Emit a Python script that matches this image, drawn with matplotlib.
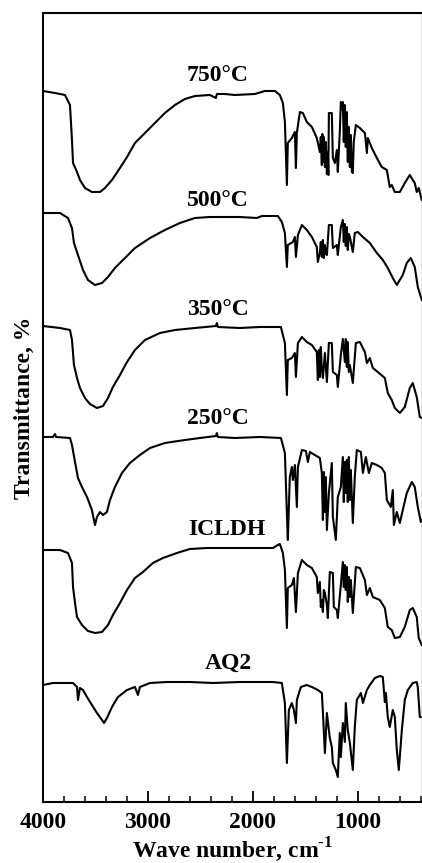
import matplotlib
matplotlib.use('Agg')
import matplotlib.pyplot as plt
from matplotlib.ticker import MultipleLocator

plt.rcParams['font.family'] = ['Liberation Serif', 'DejaVu Serif']
plt.rcParams['font.weight'] = 'bold'
plt.rcParams['mathtext.fontset'] = 'custom'
plt.rcParams['mathtext.rm'] = 'Liberation Serif:bold'
plt.rcParams['mathtext.bf'] = 'Liberation Serif:bold'

# FTIR spectra, stacked, transmittance in arbitrary units
wn_750 = [4000, 3886, 3791, 3743, 3724, 3714, 3676, 3648, 3600, 3534, 3457, 3410, 3343, 3267, 3200, 3124,
          3029, 2934, 2839, 2743, 2648, 2553, 2410, 2353, 2344, 2267, 2172, 1982, 1887, 1791, 1744, 1715,
          1696, 1677, 1668, 1630, 1601, 1591, 1582, 1553, 1525, 1487, 1439, 1392, 1363, 1354, 1344, 1339,
          1334, 1325, 1315, 1306, 1296, 1287, 1282, 1277, 1249, 1239, 1220, 1201, 1192, 1173, 1163, 1154,
          1144, 1135, 1125, 1116, 1106, 1097, 1087, 1077, 1068, 1058, 1049, 1040, 1020, 982, 934, 915,
          906, 868, 820, 773, 725, 697, 678, 649, 601, 554, 506, 478, 459, 440, 421, 392]
t_750 = [711, 709, 707, 697, 662, 639, 630, 622, 614, 610, 610, 614, 622, 634, 645, 659,
         669, 679, 689, 697, 703, 706, 707, 704, 708, 708, 707, 708, 711, 711, 707, 699,
         680, 617, 659, 664, 670, 634, 669, 690, 689, 680, 675, 664, 650, 665, 637, 668,
         640, 665, 635, 660, 628, 650, 627, 689, 689, 644, 639, 652, 630, 670, 700, 692,
         700, 660, 697, 655, 690, 640, 675, 635, 667, 630, 629, 660, 677, 674, 669, 649,
         664, 654, 644, 635, 632, 615, 617, 610, 610, 619, 627, 622, 619, 610, 614, 602]

wn_500 = [4000, 3838, 3762, 3724, 3705, 3667, 3619, 3572, 3505, 3438, 3381, 3315, 3219, 3124, 2981, 2839,
          2696, 2553, 2410, 2125, 1963, 1915, 1763, 1725, 1696, 1677, 1668, 1620, 1601, 1591, 1572, 1534,
          1487, 1439, 1392, 1382, 1363, 1354, 1344, 1334, 1325, 1315, 1306, 1296, 1277, 1249, 1239, 1201,
          1192, 1163, 1144, 1135, 1125, 1116, 1106, 1097, 1087, 1077, 1049, 1030, 1001, 953, 887, 820,
          763, 716, 668, 630, 573, 535, 497, 459, 430, 392]
t_500 = [589, 589, 584, 574, 559, 547, 532, 522, 517, 519, 525, 534, 544, 554, 564, 572,
         579, 584, 585, 585, 584, 586, 586, 580, 569, 535, 557, 560, 565, 545, 567, 577,
         572, 565, 555, 540, 549, 560, 545, 562, 544, 557, 548, 547, 577, 577, 554, 557,
         547, 575, 582, 560, 578, 556, 575, 552, 568, 565, 550, 569, 570, 565, 559, 549,
         542, 534, 524, 517, 527, 539, 544, 535, 515, 502]

wn_350 = [4000, 3838, 3743, 3724, 3705, 3676, 3648, 3600, 3553, 3486, 3429, 3381, 3334, 3267, 3200, 3124,
          3029, 2886, 2743, 2553, 2353, 2344, 2334, 2125, 1934, 1734, 1696, 1677, 1668, 1630, 1601, 1591,
          1572, 1534, 1487, 1439, 1392, 1382, 1373, 1363, 1354, 1344, 1334, 1315, 1296, 1277, 1249, 1239,
          1201, 1192, 1163, 1144, 1125, 1116, 1106, 1097, 1087, 1077, 1049, 1020, 982, 934, 915, 887,
          858, 811, 744, 716, 678, 649, 601, 554, 506, 478, 440, 411, 392]
t_350 = [476, 474, 472, 462, 437, 424, 414, 404, 398, 394, 396, 404, 415, 427, 440, 452,
         462, 469, 472, 474, 476, 479, 475, 474, 475, 475, 459, 407, 442, 444, 449, 425,
         459, 465, 460, 457, 450, 422, 452, 425, 455, 432, 424, 449, 420, 459, 459, 430,
         427, 415, 447, 463, 440, 463, 435, 460, 430, 437, 419, 459, 460, 450, 439, 444,
         434, 430, 424, 409, 402, 394, 389, 395, 414, 419, 405, 385, 384]

wn_250 = [4000, 3905, 3886, 3876, 3743, 3724, 3695, 3667, 3629, 3581, 3534, 3505, 3486, 3457, 3429, 3391,
          3362, 3315, 3248, 3172, 3077, 2981, 2839, 2648, 2505, 2353, 2344, 2334, 2172, 1934, 1734, 1696,
          1677, 1668, 1649, 1630, 1620, 1601, 1582, 1572, 1534, 1496, 1477, 1458, 1411, 1363, 1344, 1334,
          1325, 1315, 1306, 1296, 1277, 1249, 1239, 1211, 1192, 1163, 1144, 1135, 1125, 1116, 1106, 1097,
          1087, 1077, 1068, 1049, 1030, 1011, 972, 953, 925, 896, 868, 820, 773, 744, 725, 687, 668, 658,
          630, 601, 573, 535, 487, 459, 430, 401, 392]
t_250 = [365, 365, 368, 365, 364, 357, 340, 324, 315, 305, 292, 277, 285, 290, 287, 290,
         302, 315, 329, 339, 347, 354, 359, 362, 364, 366, 369, 365, 364, 365, 364, 349,
         289, 262, 325, 335, 322, 337, 295, 335, 352, 351, 340, 350, 347, 344, 329, 282,
         330, 290, 325, 272, 309, 339, 285, 262, 305, 315, 345, 300, 340, 309, 342, 300,
         345, 302, 332, 279, 325, 352, 350, 329, 345, 329, 339, 337, 334, 329, 302, 295, 312, 277,
         290, 279, 292, 309, 320, 315, 295, 280, 282]

wn_icldh = [4000, 3838, 3762, 3724, 3714, 3695, 3676, 3629, 3572, 3505, 3438, 3381, 3334, 3267, 3200, 3124,
            3048, 2953, 2858, 2724, 2601, 2439, 2125, 1810, 1763, 1744, 1715, 1696, 1677, 1668, 1630, 1610,
            1591, 1572, 1534, 1487, 1439, 1392, 1382, 1363, 1354, 1344, 1334, 1325, 1315, 1296, 1287, 1268,
            1239, 1230, 1201, 1192, 1163, 1144, 1135, 1125, 1116, 1106, 1097, 1087, 1077, 1068, 1049, 1020,
            982, 934, 915, 887, 858, 792, 744, 716, 678, 649, 601, 554, 506, 478, 440, 421, 392]
t_icldh = [252, 252, 249, 239, 215, 199, 185, 177, 171, 169, 170, 177, 187, 199, 212, 224,
           230, 239, 244, 249, 253, 254, 254, 254, 257, 258, 249, 232, 174, 214, 217, 224,
           190, 229, 242, 237, 234, 225, 209, 220, 195, 202, 190, 212, 209, 197, 184, 230,
           229, 195, 192, 184, 217, 240, 215, 237, 212, 235, 200, 225, 205, 222, 189, 235,
           234, 222, 207, 214, 205, 202, 194, 175, 172, 164, 165, 175, 192, 194, 185, 164, 157]

wn_aq2 = [4000, 3905, 3714, 3676, 3667, 3648, 3619, 3581, 3534, 3486, 3438, 3419, 3391, 3343, 3286, 3200,
          3124, 3096, 3077, 2981, 2820, 2601, 2382, 2125, 1810, 1725, 1696, 1677, 1658, 1630, 1610, 1591,
          1582, 1544, 1487, 1439, 1382, 1344, 1334, 1315, 1296, 1268, 1249, 1239, 1211, 1192, 1173, 1163,
          1144, 1125, 1116, 1097, 1077, 1049, 1030, 1011, 972, 953, 915, 887, 839, 792, 763, 744, 734,
          716, 697, 668, 649, 630, 611, 582, 554, 525, 478, 440, 430, 411, 392]
t_aq2 = [117, 119, 119, 115, 102, 114, 112, 105, 97, 89, 82, 79, 84, 95, 105, 112,
         115, 107, 115, 119, 120, 120, 119, 120, 120, 119, 99, 39, 92, 99, 92, 79,
         102, 115, 117, 115, 112, 109, 90, 49, 89, 64, 55, 39, 32, 25, 69, 45,
         79, 60, 99, 72, 59, 32, 75, 102, 109, 99, 112, 117, 124, 126, 125, 100, 109,
         85, 75, 92, 85, 52, 32, 72, 102, 112, 119, 120, 115, 85, 85]

labels = ['750°C', '500°C', '350°C', '250°C', 'ICLDH', 'AQ2']
label_wn = [2334, 2334, 2334, 2334, 2248, 2239]
label_t = [727, 602, 493, 384, 273, 139]

spectra = [(wn_750, t_750), (wn_500, t_500), (wn_350, t_350),
           (wn_250, t_250), (wn_icldh, t_icldh), (wn_aq2, t_aq2)]

fig = plt.figure(figsize=(4.22, 8.63), dpi=100)
ax = fig.add_axes([43 / 422, 61 / 863, 379 / 422, 789 / 863])

for (wn, t) in spectra:
    ax.plot(wn, t, color='black', lw=1.5)

for lab, x, y in zip(labels, label_wn, label_t):
    ax.text(x, y, lab, ha='center', va='center', fontsize=17, fontweight='bold')

ax.set_xlim(4000, 390)
ax.set_ylim(0, 789)
ax.set_xticks([4000, 3000, 2000, 1000])
ax.xaxis.set_minor_locator(MultipleLocator(200))
ax.tick_params(axis='x', which='major', direction='in', length=8, width=1.3,
               labelsize=17, pad=7, top=False)
ax.tick_params(axis='x', which='minor', direction='in', length=4.5, width=1.1, top=False)
ax.set_yticks([])
for s in ['left', 'bottom', 'top']:
    ax.spines[s].set_linewidth(1.5)
ax.spines['right'].set_linewidth(1.0)
ax.spines['right'].set_color('#888888')

ax.set_xlabel(r'Wave number, cm$^{\text{-1}}$', fontsize=17, fontweight='bold', labelpad=2)
ax.set_ylabel('Transmittance, %', fontsize=17, fontweight='bold', labelpad=6)

fig.savefig('out.png', dpi=100)
